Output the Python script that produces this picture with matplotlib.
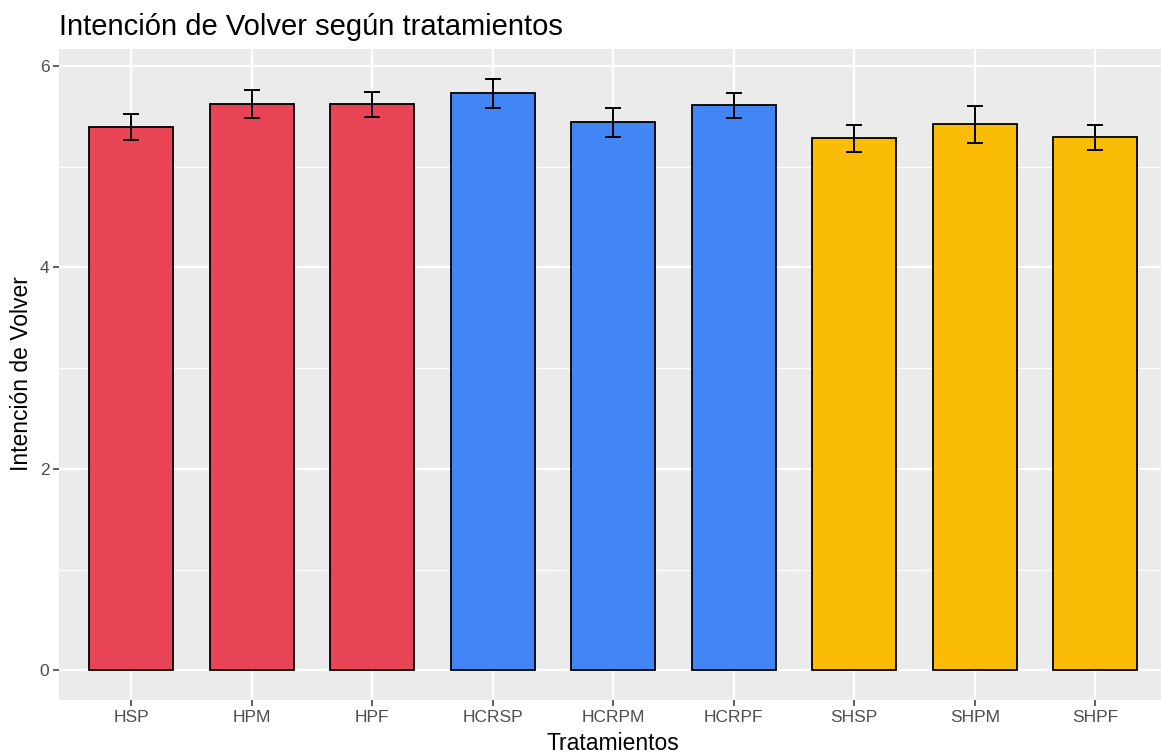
import numpy as np
import matplotlib
matplotlib.use("Agg")
import matplotlib.pyplot as plt
from matplotlib.ticker import MultipleLocator

# Medias y errores estándar por tratamiento
tratamientos = ["HSP", "HPM", "HPF", "HCRSP", "HCRPM", "HCRPF", "SHSP", "SHPM", "SHPF"]
medias = [5.39, 5.62, 5.62, 5.73, 5.44, 5.61, 5.28, 5.42, 5.29]
errores = [0.13, 0.14, 0.125, 0.145, 0.145, 0.125, 0.135, 0.18, 0.125]
colores = ["#E94455", "#E94455", "#E94455",
           "#4285F4", "#4285F4", "#4285F4",
           "#FBBC05", "#FBBC05", "#FBBC05"]

plt.rcParams["font.family"] = ["Liberation Sans", "DejaVu Sans"]

W, H = 1161, 755
fig = plt.figure(figsize=(W / 100, H / 100), dpi=100)
# el panel se extiende un poco más allá del borde derecho
ax = fig.add_axes([59 / W, 55 / H, 1108.6 / W, 651 / H])

x = np.arange(1, len(tratamientos) + 1)
ax.bar(x, medias, width=0.7, color=colores, edgecolor="black", linewidth=1.3, zorder=3)
ax.errorbar(x, medias, yerr=errores, fmt="none", ecolor="black",
            elinewidth=1.4, capsize=6, capthick=1.4, zorder=4)

ax.set_xlim(0.4, 9.6)
ax.set_ylim(-0.293, 6.168)
ax.set_xticks(x)
ax.set_xticklabels(tratamientos)
ax.yaxis.set_major_locator(MultipleLocator(2))
ax.yaxis.set_minor_locator(MultipleLocator(1))

# estilo tipo ggplot
ax.set_facecolor("#EBEBEB")
for s in ax.spines.values():
    s.set_visible(False)
ax.grid(which="major", color="white", linewidth=1.6, zorder=0)
ax.grid(which="minor", axis="y", color="white", linewidth=0.8, zorder=0)
ax.set_axisbelow(True)
ax.tick_params(which="major", length=4, width=1.1, color="#333333",
               labelcolor="#4D4D4D", labelsize=12.5, pad=3)
ax.tick_params(which="minor", length=0)

fig.text(59 / W, 1 - 35 / H, "Intención de Volver según tratamientos",
         fontsize=21, ha="left", va="baseline", color="black")
fig.text(613 / W, 1 - 750 / H, "Tratamientos", fontsize=16.5,
         ha="center", va="baseline", color="black")
fig.text(22 / W, 1 - 374 / H, "Intención de Volver", fontsize=16.5,
         ha="center", va="center", rotation=90, color="black")

fig.savefig("out.png", dpi=100)
